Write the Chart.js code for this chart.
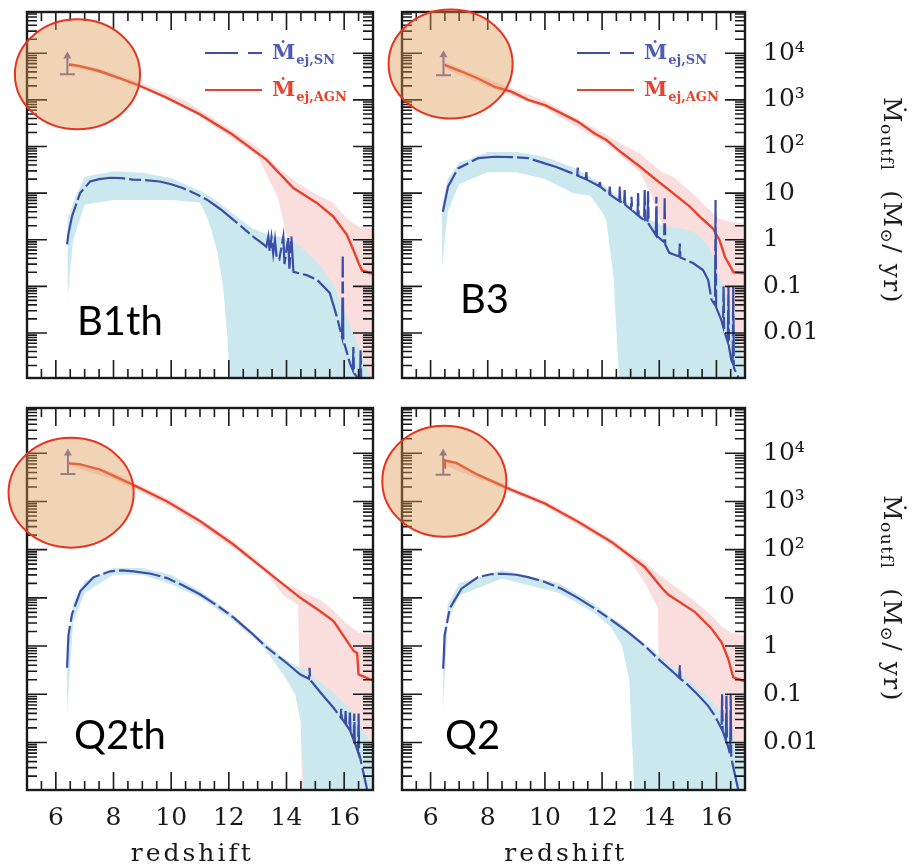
<!DOCTYPE html>
<html>
<head>
<meta charset="utf-8">
<title>Outflow rates vs redshift</title>
<script src="https://cdn.jsdelivr.net/npm/chart.js@4.4.1/dist/chart.umd.min.js"></script>
<style>
  html, body { margin: 0; padding: 0; background: #fff; }
  #page { position: relative; width: 915px; height: 867px; overflow: hidden; background: #fff; }
  #page canvas { position: absolute; left: 0; top: 0; }
  .run { position: absolute; z-index: 2; font-family: Lato, 'Open Sans', sans-serif; font-size: 40px; line-height: 40px; color: #000; white-space: nowrap; }
  .ytitle { position: absolute; z-index: 2; writing-mode: vertical-rl; font-family: 'DejaVu Serif', serif; font-size: 25px; line-height: 30px; letter-spacing: 1.5px; color: #1d1d1d; white-space: nowrap; }
  .ytitle sub { font-size: 17px; vertical-align: -5px; line-height: 0; }
</style>
</head>
<body>
<div id="page">
  <div class="ytitle" style="left:877px;top:97px">Ṁ<sub>outfl</sub>&nbsp;&nbsp;(M<sub>⊙</sub>/ yr)</div>
  <div class="ytitle" style="left:877px;top:495px">Ṁ<sub>outfl</sub>&nbsp;&nbsp;(M<sub>⊙</sub>/ yr)</div>
</div>
<script>
// ---------- axes ----------
const xRange = [5, 17];
const yRangeTop = [1.08e-3, 7.7e4];
const yRangeBottom = [1.03e-3, 8.7e4];
const xTickValues = [6, 8, 10, 12, 14, 16];
const xTickLabels = ['6', '8', '10', '12', '14', '16'];
const xMinorTicks = [5.5, 6.5, 7, 7.5, 8.5, 9, 9.5, 10.5, 11, 11.5, 12.5, 13, 13.5, 14.5, 15, 15.5, 16.5];
const yTickValues = [1e4, 1e3, 1e2, 10, 1, 0.1, 0.01];
const yTickLabels = ['10⁴', '10³', '10²', '10', '1', '0.1', '0.01'];
const xTitle = 'redshift';
const panelNames = ['B1th', 'B3', 'Q2th', 'Q2'];
const legendMain = 'Ṁ';
const legendSubs = ['ej,SN', 'ej,AGN'];

// ---------- B1th ----------
const b1thAgnX = [6.45, 6.8, 7.5, 8.2, 8.8, 9.8, 11.0, 12.1, 13.3, 14.24, 15.05, 15.62, 16.09, 16.32, 16.5, 16.62, 16.9, 17.0];
const b1thAgnY = [5750, 5370, 4170, 2950, 2140, 1150, 490, 186, 52.5, 12.9, 6.17, 3.16, 1.29, 0.603, 0.316, 0.219, 0.191, 0.19];
const b1thAgnBandX = [6.45, 7.5, 9.0, 10.5, 12.0, 13.0, 13.7, 14.0, 14.3, 15.0, 15.6, 16.1, 16.5, 17.0];
const b1thAgnBandHi = [6310, 4790, 2290, 955, 251, 95.5, 35.5, 25.1, 17.8, 9.55, 6.31, 2.82, 1.91, 1.78];
const b1thAgnBandLo = [5250, 3720, 1910, 708, 166, 63.1, 7.94, 1.26, 5e-4, 5e-4, 5e-4, 5e-4, 5e-4, 5e-4];
const b1thSnX = [6.39, 6.44, 6.56, 6.84, 7.19, 7.5, 7.88, 8.3, 8.68, 9.1, 9.6, 10.0, 10.4, 10.8, 11.24, 11.7, 12.15, 12.5, 12.84, 13.1, 13.3, 13.37, 13.42, 13.48, 13.54, 13.6, 13.66, 13.75, 13.89, 13.93, 14.06, 14.1, 14.17, 14.24, 14.7, 15.06, 15.5, 15.75, 15.93, 15.95, 15.97, 16.2, 16.3, 16.32, 16.34, 16.45, 16.55, 16.57, 16.6];
const b1thSnY = [0.794, 1.38, 3.16, 10, 17.8, 20.0, 21.4, 20.9, 19.5, 19.1, 17.8, 15.5, 12.9, 10, 7.24, 4.57, 2.69, 1.78, 1.17, 0.891, 0.708, 1.17, 0.562, 1.12, 0.501, 1.0, 0.417, 0.380, 1.17, 0.302, 1.12, 0.240, 1.17, 0.204, 0.174, 0.138, 0.0724, 0.0219, 0.00794, 0.437, 0.00708, 0.00224, 0.00158, 0.00501, 0.00141, 0.00112, 0.00089, 0.00447, 0.0005];
const b1thSnBandX = [6.4, 6.6, 7.0, 8.0, 9.0, 10.0, 11.0, 11.3, 11.6, 11.8, 11.95, 12.05, 12.8, 13.3, 14.2, 15.0, 15.6, 16.0, 16.5, 17.0];
const b1thSnBandHi = [2.51, 6.31, 22.4, 29.5, 27.5, 20.9, 11.2, 8.91, 6.61, 5.25, 4.57, 3.98, 1.78, 1.32, 1.0, 0.372, 0.117, 0.0316, 0.005, 0.0008];
const b1thSnBandLo = [0.05, 1.0, 5.62, 7.08, 7.08, 7.08, 6.31, 2.51, 0.562, 0.1, 0.0079, 5e-4, 5e-4, 5e-4, 5e-4, 5e-4, 5e-4, 5e-4, 5e-4, 5e-4];
const b1thLimit = [6.40, 3550, 11000];          // redshift, base, arrow tip
const b1thRing = [4.58, 8.92, 234, 53700];      // x from, x to, y from, y to

// ---------- B3 ----------
const b3AgnX = [6.49, 7.08, 7.66, 8.24, 8.83, 9.41, 10.0, 10.58, 11.16, 11.74, 12.15, 12.7, 13.32, 13.9, 14.48, 15.07, 15.5, 15.88, 16.11, 16.3, 16.52, 16.6, 16.93, 17.0];
const b3AgnY = [5620, 4070, 2880, 1910, 1510, 1000, 776, 513, 339, 191, 138, 72.4, 37.2, 19.1, 10.0, 5.13, 2.82, 1.74, 0.977, 0.427, 0.245, 0.2, 0.191, 0.19];
const b3AgnBandX = [6.49, 8.0, 10.0, 12.15, 12.7, 13.32, 13.7, 14.1, 14.2, 14.48, 15.07, 15.65, 16.11, 16.5, 17.0];
const b3AgnBandHi = [6610, 2820, 955, 178, 112, 70.8, 44.7, 28.2, 26.3, 22.4, 11.2, 5.01, 2.82, 2.4, 2.24];
const b3AgnBandLo = [4790, 1910, 661, 112, 60.3, 28.2, 10.0, 2.0, 5e-4, 5e-4, 5e-4, 5e-4, 5e-4, 5e-4, 5e-4];
const b3SnX = [6.43, 6.61, 6.96, 7.66, 8.24, 9.0, 9.41, 9.88, 10.4, 10.98,
  11.13, 11.15, 11.17, 11.43, 11.45, 11.47, 11.9, 11.92, 11.94,
  12.25, 12.27, 12.29, 12.6, 12.62, 12.64, 12.77, 12.79, 12.81,
  13.01, 13.03, 13.05, 13.24, 13.26, 13.28, 13.47, 13.49, 13.51,
  13.59, 13.61, 13.63, 13.88, 13.9, 13.92, 14.17, 14.19, 14.21,
  14.35, 14.7, 14.72, 14.74, 15.18, 15.53, 15.71, 15.83, 15.95, 15.97, 15.99,
  16.17, 16.23, 16.25, 16.27, 16.4, 16.42, 16.44, 16.52, 16.57, 16.59, 16.61, 16.76, 16.85];
const b3SnY = [3.98, 13.8, 33.9, 56.2, 60.3, 58.9, 56.2, 45.7, 36.3, 26.3,
  24.0, 35.5, 23.4, 20.0, 28.2, 19.5, 14.1, 19.1, 13.8,
  9.55, 13.8, 9.12, 6.76, 13.8, 6.61, 5.75, 11.7, 5.62,
  4.47, 8.32, 4.27, 3.39, 10, 3.24, 2.63, 11.7, 2.57,
  2.29, 11.0, 2.19, 1.26, 8.32, 1.20, 0.891, 7.76, 0.794,
  0.525, 0.437, 0.832, 0.417, 0.316, 0.224, 0.138, 0.0513, 0.0398, 7.08, 0.0355,
  0.0191, 0.0141, 0.1, 0.0112, 0.00631, 0.1, 0.00501, 0.00263, 0.00224, 0.1, 0.00178, 0.00115, 0.0005];
const b3SnBandX = [6.4, 6.6, 7.0, 8.0, 9.0, 10.0, 11.0, 11.57, 12.0, 12.15, 12.4, 12.62, 13.3, 14.2, 14.7, 15.2, 15.7, 16.0, 16.5, 17.0];
const b3SnBandHi = [5.01, 20.0, 44.7, 75.9, 75.9, 60.3, 35.5, 22.4, 15.8, 13.2, 10.0, 7.94, 3.55, 1.91, 1.78, 1.51, 0.794, 0.251, 0.0316, 0.0015];
const b3SnBandLo = [0.251, 3.98, 15.8, 28.2, 28.2, 20.0, 10.0, 8.91, 3.98, 2.51, 0.158, 5e-4, 5e-4, 5e-4, 5e-4, 5e-4, 5e-4, 5e-4, 5e-4, 5e-4];
const b3Limit = [6.45, 3400, 11700];
const b3Ring = [4.53, 8.87, 398, 87000];

// ---------- Q2th ----------
const q2thAgnX = [6.44, 6.85, 7.54, 8.7, 9.86, 11.01, 12.17, 13.32, 14.48, 15.17, 15.63, 16.1, 16.33, 16.45, 16.5, 16.9, 17.0];
const q2thAgnY = [6170, 5890, 4570, 2190, 1000, 389, 126, 35.5, 10.0, 5.25, 3.31, 1.26, 0.794, 0.708, 0.257, 0.204, 0.2];
const q2thAgnBandX = [6.44, 8.0, 10.0, 12.0, 13.2, 13.9, 14.4, 14.55, 15.2, 15.6, 16.1, 16.5, 17.0];
const q2thAgnBandHi = [6920, 3980, 1070, 178, 47.9, 20.0, 15.1, 13.2, 8.91, 5.62, 2.82, 1.91, 1.74];
const q2thAgnBandLo = [5500, 2880, 759, 126, 38.0, 11.2, 7.08, 5e-4, 5e-4, 5e-4, 5e-4, 5e-4, 5e-4];
const q2thSnX = [6.39, 6.42, 6.44, 6.56, 6.85, 7.31, 7.89, 8.3, 8.7, 9.3, 9.86, 10.4, 11.01, 11.6, 12.17, 12.75, 13.32, 13.9, 14.48, 14.78, 14.8, 14.82, 15.2, 15.63, 15.88, 15.9, 15.92, 16.03, 16.05, 16.07, 16.18, 16.2, 16.22, 16.33, 16.35, 16.37, 16.48, 16.5, 16.52, 16.55, 16.78, 16.85];
const q2thSnY = [0.355, 1, 1.74, 4.57, 13.8, 26.9, 35.5, 37.2, 35.5, 31.6, 25.7, 18.2, 11.7, 6.92, 3.89, 1.95, 0.933, 0.501, 0.257, 0.209, 0.355, 0.2, 0.105, 0.0525, 0.0331, 0.0501, 0.0316, 0.0251, 0.0447, 0.0234, 0.0186, 0.0447, 0.0166, 0.0112, 0.0398, 0.01, 0.00631, 0.0398, 0.00562, 0.0049, 0.00117, 0.0005];
const q2thSnBandX = [6.39, 6.6, 7.0, 8.0, 9.0, 10.0, 11.0, 12.0, 13.0, 13.3, 13.9, 14.3, 14.5, 14.63, 15.6, 16.2, 17.0];
const q2thSnBandHi = [0.631, 7.94, 22.4, 41.7, 41.7, 30.2, 14.1, 5.25, 1.58, 1.12, 0.562, 0.398, 0.355, 0.316, 0.112, 0.0501, 0.008];
const q2thSnBandLo = [0.0398, 3.16, 12.6, 30.2, 30.2, 19.1, 10.0, 3.98, 1.26, 0.794, 0.251, 0.1, 0.0251, 5e-4, 5e-4, 5e-4, 5e-4];
const q2thLimit = [6.42, 3700, 12600];
const q2thRing = [4.36, 8.70, 110, 20900];

// ---------- Q2 ----------
const q2AgnX = [6.49, 6.5, 6.9, 7.66, 8.83, 9.99, 11.16, 12.33, 13.49, 14.1, 14.31, 15.24, 15.83, 16.18, 16.41, 16.59, 16.94, 17.0];
const q2AgnY = [5010, 7080, 6310, 3550, 1740, 912, 380, 145, 43.7, 15.8, 11.7, 5.13, 2.29, 1.20, 0.55, 0.224, 0.191, 0.19];
const q2AgnBandX = [6.5, 8.0, 10.0, 12.0, 12.9, 13.5, 13.96, 14.0, 14.3, 15.2, 15.8, 16.2, 16.5, 17.0];
const q2AgnBandHi = [7940, 3160, 1050, 224, 95.5, 56.2, 31.6, 30.2, 22.4, 8.91, 4.47, 2.51, 1.91, 1.66];
const q2AgnBandLo = [5620, 2510, 794, 166, 70.8, 20.0, 6.03, 5e-4, 5e-4, 5e-4, 5e-4, 5e-4, 5e-4, 5e-4];
const q2SnX = [6.44, 6.47, 6.49, 6.67, 7.08, 7.66, 8.1, 8.48, 9.0, 9.41, 10.0, 10.58, 11.15, 11.74, 12.3, 12.91, 13.5, 14.08, 14.5, 14.7, 14.72, 14.74, 14.9, 15.3, 15.71, 15.95, 16.18, 16.2, 16.22, 16.33, 16.35, 16.37, 16.48, 16.5, 16.52, 16.53, 16.76, 16.85];
const q2SnY = [0.339, 0.794, 1.66, 6.03, 15.5, 26.9, 30.9, 31.6, 30.2, 26.9, 21.4, 15.5, 10, 6.03, 3.55, 1.95, 1, 0.468, 0.282, 0.219, 0.398, 0.209, 0.178, 0.105, 0.0575, 0.0355, 0.0191, 0.1, 0.0174, 0.0112, 0.1, 0.01, 0.00562, 0.1, 0.00479, 0.00447, 0.00107, 0.0005];
const q2SnBandX = [6.44, 6.6, 7.0, 8.5, 10.5, 11.7, 12.3, 12.7, 12.95, 13.15, 14.0, 15.0, 15.7, 16.2, 17.0];
const q2SnBandHi = [0.501, 7.08, 20.0, 38.0, 20.0, 7.59, 3.98, 2.82, 2.0, 1.66, 0.631, 0.2, 0.0891, 0.0398, 0.004];
const q2SnBandLo = [0.0501, 3.16, 11.2, 25.1, 12.6, 5.01, 2.51, 1.0, 0.2, 5e-4, 5e-4, 5e-4, 5e-4, 5e-4, 5e-4];
const q2Limit = [6.44, 3600, 12600];
const q2Ring = [4.31, 8.65, 186, 37200];

// ---------- styling ----------
const W = 915, H = 867;
const COLORS = {
  agn: '#e8412c', sn: '#3a4ea6', legendSn: '#4d5db3',
  agnBand: 'rgb(250,222,222)', snBand: 'rgb(203,232,238)',
  limit: '#6c69a6', ring: '#e63421', ringFill: 'rgba(222,150,80,0.42)', ink: '#1a1a1a'
};
const SERIF = "'DejaVu Serif', serif";

const panels = [
  { box: { left: 27, top: 12, right: 373, bottom: 378 }, yRange: yRangeTop, xAxis: false, yAxis: false, legend: true, labelAt: [77, 300],
    agn: [b1thAgnX, b1thAgnY], agnBand: [b1thAgnBandX, b1thAgnBandHi, b1thAgnBandLo],
    sn: [b1thSnX, b1thSnY], snBand: [b1thSnBandX, b1thSnBandHi, b1thSnBandLo], limit: b1thLimit, ring: b1thRing },
  { box: { left: 402, top: 12, right: 745, bottom: 378 }, yRange: yRangeTop, xAxis: false, yAxis: true, legend: true, labelAt: [460, 278],
    agn: [b3AgnX, b3AgnY], agnBand: [b3AgnBandX, b3AgnBandHi, b3AgnBandLo],
    sn: [b3SnX, b3SnY], snBand: [b3SnBandX, b3SnBandHi, b3SnBandLo], limit: b3Limit, ring: b3Ring },
  { box: { left: 27, top: 408, right: 373, bottom: 790 }, yRange: yRangeBottom, xAxis: true, yAxis: false, legend: false, labelAt: [74, 714],
    agn: [q2thAgnX, q2thAgnY], agnBand: [q2thAgnBandX, q2thAgnBandHi, q2thAgnBandLo],
    sn: [q2thSnX, q2thSnY], snBand: [q2thSnBandX, q2thSnBandHi, q2thSnBandLo], limit: q2thLimit, ring: q2thRing },
  { box: { left: 402, top: 408, right: 745, bottom: 790 }, yRange: yRangeBottom, xAxis: true, yAxis: true, legend: false, labelAt: [445, 714],
    agn: [q2AgnX, q2AgnY], agnBand: [q2AgnBandX, q2AgnBandHi, q2AgnBandLo],
    sn: [q2SnX, q2SnY], snBand: [q2SnBandX, q2SnBandHi, q2SnBandLo], limit: q2Limit, ring: q2Ring }
];

const pts = (xs, ys) => xs.map((x, i) => ({ x, y: ys[i] }));

// frame with inward ticks on all four sides
function drawFrame(chart) {
  const { ctx, chartArea: a, scales: { x, y } } = chart;
  ctx.save();
  ctx.strokeStyle = COLORS.ink;
  ctx.lineWidth = 1.6;
  ctx.beginPath();
  const hTick = (px, len) => {
    ctx.moveTo(px, a.bottom); ctx.lineTo(px, a.bottom - len);
    ctx.moveTo(px, a.top); ctx.lineTo(px, a.top + len);
  };
  const vTick = (py, len) => {
    ctx.moveTo(a.left, py); ctx.lineTo(a.left + len, py);
    ctx.moveTo(a.right, py); ctx.lineTo(a.right - len, py);
  };
  xTickValues.forEach(v => hTick(x.getPixelForValue(v), 18));
  xMinorTicks.forEach(v => hTick(x.getPixelForValue(v), 9));
  yTickValues.forEach(v => vTick(y.getPixelForValue(v), 20));
  for (let e = -3; e <= 4; e++) {
    for (let m = 2; m <= 9; m++) {
      const v = m * Math.pow(10, e);
      if (v > y.min && v < y.max) vTick(y.getPixelForValue(v), 10);
    }
  }
  ctx.stroke();
  ctx.lineWidth = 2.4;
  ctx.strokeRect(a.left, a.top, a.right - a.left, a.bottom - a.top);
  ctx.restore();
}

// lower-limit marker (bar with upward arrow)
function drawLimit(chart, lim) {
  const { ctx, scales: { x, y } } = chart;
  const px = x.getPixelForValue(lim[0]);
  const yLo = y.getPixelForValue(lim[1]);
  const yHi = y.getPixelForValue(lim[2]);
  ctx.save();
  ctx.strokeStyle = COLORS.limit; ctx.fillStyle = COLORS.limit;
  ctx.lineWidth = 2;
  ctx.beginPath();
  ctx.moveTo(px - 7.5, yLo); ctx.lineTo(px + 7.5, yLo);
  ctx.moveTo(px, yLo); ctx.lineTo(px, yHi + 5);
  ctx.stroke();
  ctx.beginPath();
  ctx.moveTo(px, yHi); ctx.lineTo(px - 4, yHi + 7); ctx.lineTo(px + 4, yHi + 7); ctx.closePath();
  ctx.fill();
  ctx.restore();
}

function drawLegend(chart) {
  const { ctx, chartArea: a } = chart;
  const x0 = a.right - 168;
  const rows = [
    { y: a.top + 41, line: COLORS.sn, text: COLORS.legendSn, dash: [33, 10, 14, 10], sub: legendSubs[0] },
    { y: a.top + 78, line: COLORS.agn, text: COLORS.agn, dash: [], sub: legendSubs[1] }
  ];
  ctx.save();
  rows.forEach(r => {
    ctx.strokeStyle = r.line; ctx.lineWidth = 2; ctx.setLineDash(r.dash);
    ctx.beginPath(); ctx.moveTo(x0, r.y); ctx.lineTo(x0 + 57, r.y); ctx.stroke();
    ctx.setLineDash([]);
    ctx.fillStyle = r.text; ctx.textBaseline = 'alphabetic'; ctx.textAlign = 'left';
    ctx.font = 'bold 21px ' + SERIF;
    ctx.fillText(legendMain, x0 + 67, r.y + 6);
    const w = ctx.measureText(legendMain).width;
    ctx.font = 'bold 13px ' + SERIF;
    ctx.fillText(r.sub, x0 + 68 + w, r.y + 11);
  });
  ctx.restore();
}

function drawRing(chart, r) {
  const { ctx, scales: { x, y } } = chart;
  const x0 = x.getPixelForValue(r[0]), x1 = x.getPixelForValue(r[1]);
  const y0 = y.getPixelForValue(r[3]), y1 = y.getPixelForValue(r[2]);
  ctx.save();
  ctx.beginPath();
  ctx.ellipse((x0 + x1) / 2, (y0 + y1) / 2, (x1 - x0) / 2, (y1 - y0) / 2, 0, 0, Math.PI * 2);
  ctx.fillStyle = COLORS.ringFill; ctx.fill();
  ctx.lineWidth = 2; ctx.strokeStyle = COLORS.ring; ctx.stroke();
  ctx.restore();
}

function buildPanel(p, idx) {
  const page = document.getElementById('page');
  const label = document.createElement('div');
  label.className = 'run';
  label.textContent = panelNames[idx];
  label.style.left = p.labelAt[0] + 'px';
  label.style.top = p.labelAt[1] + 'px';
  page.appendChild(label);

  const canvas = document.createElement('canvas');
  canvas.width = W; canvas.height = H;
  page.appendChild(canvas);

  const decor = {
    id: 'panelDecor' + idx,
    beforeDraw(c) { c.ctx.letterSpacing = '3px'; },
    beforeDatasetsDraw(c) { c.ctx.letterSpacing = '0px'; },
    afterDatasetsDraw(c) {
      drawFrame(c);
      drawLimit(c, p.limit);
      if (p.legend) drawLegend(c);
    },
    afterDraw(c) { drawRing(c, p.ring); }
  };

  const bandStyle = { borderWidth: 0, pointRadius: 0, tension: 0 };
  new Chart(canvas, {
    type: 'line',
    data: {
      datasets: [
        { ...bandStyle, data: pts(p.agnBand[0], p.agnBand[1]), fill: '+1', backgroundColor: COLORS.agnBand, order: 4 },
        { ...bandStyle, data: pts(p.agnBand[0], p.agnBand[2]), fill: false, order: 4 },
        { ...bandStyle, data: pts(p.snBand[0], p.snBand[1]), fill: '+1', backgroundColor: COLORS.snBand, order: 3 },
        { ...bandStyle, data: pts(p.snBand[0], p.snBand[2]), fill: false, order: 3 },
        { label: legendSubs[1], data: pts(p.agn[0], p.agn[1]), borderColor: COLORS.agn, borderWidth: 2.4,
          pointRadius: 0, fill: false, tension: 0, order: 2 },
        { label: legendSubs[0], data: pts(p.sn[0], p.sn[1]), borderColor: COLORS.sn, borderWidth: 2.2,
          borderDash: [42, 4, 12, 4], pointRadius: 0, fill: false, tension: 0, order: 1 }
      ]
    },
    options: {
      responsive: false,
      animation: false,
      devicePixelRatio: 1,
      events: [],
      layout: {
        autoPadding: false,
        padding: {
          left: p.box.left,
          top: p.box.top,
          right: p.yAxis ? 0 : W - p.box.right,
          bottom: p.xAxis ? 0 : H - p.box.bottom
        }
      },
      plugins: { legend: { display: false }, tooltip: { enabled: false } },
      scales: {
        x: {
          type: 'linear', min: xRange[0], max: xRange[1], bounds: 'data',
          display: p.xAxis, position: 'bottom',
          grid: { display: false, drawTicks: false }, border: { display: false },
          afterBuildTicks: s => { s.ticks = xTickValues.map(value => ({ value })); },
          afterFit: s => { s.height = p.xAxis ? H - p.box.bottom : 0; s.paddingLeft = 0; s.paddingRight = 0; },
          ticks: {
            z: 1, autoSkip: false, maxRotation: 0, padding: 13, color: COLORS.ink,
            font: { family: SERIF, size: 25 },
            callback: (v, i) => xTickLabels[i]
          },
          title: {
            display: true, text: xTitle + '\u2002', color: COLORS.ink,
            font: { family: SERIF, size: 25, lineHeight: 1.0 }, padding: 0
          }
        },
        y: {
          type: 'logarithmic', min: p.yRange[0], max: p.yRange[1], bounds: 'data',
          display: p.yAxis, position: p.yAxis ? 'right' : 'left',
          grid: { display: false, drawTicks: false }, border: { display: false },
          afterBuildTicks: s => { s.ticks = yTickValues.map(value => ({ value })); },
          afterFit: s => { s.width = p.yAxis ? W - p.box.right : 0; s.paddingTop = 0; s.paddingBottom = 0; },
          ticks: {
            z: 1, autoSkip: false, padding: 18, color: COLORS.ink,
            font: { family: SERIF, size: 25 },
            callback: (v, i) => yTickLabels[i]
          }
        }
      }
    },
    plugins: [decor]
  });
}

panels.forEach(buildPanel);
</script>
</body>
</html>
